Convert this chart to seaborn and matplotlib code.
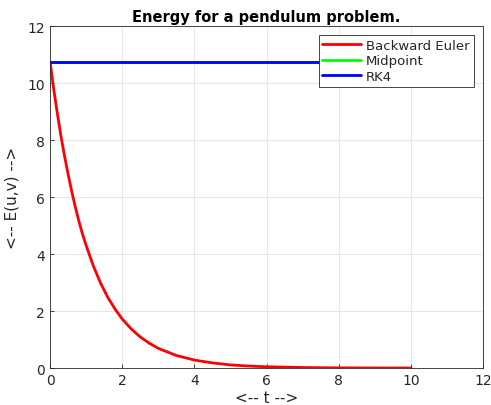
import numpy as np
import pandas as pd
import matplotlib
matplotlib.use("Agg")
import matplotlib.pyplot as plt
import seaborn as sns

# values
t_be = [0, 0.1, 0.2, 0.3, 0.4, 0.5, 0.6, 0.7, 0.8, 0.9, 1.0, 1.2, 1.4, 1.6, 1.8, 2.0,
        2.25, 2.5, 2.75, 3.0, 3.5, 4.0, 4.5, 5.0, 5.5, 6.0, 7.0, 8.0, 9.0, 10.0]
e_be = [10.75, 9.8, 8.95, 8.15, 7.45, 6.8, 6.2, 5.65, 5.15, 4.7, 4.3, 3.58, 2.98, 2.48,
        2.07, 1.72, 1.37, 1.09, 0.87, 0.69, 0.44, 0.28, 0.18, 0.11, 0.07, 0.045,
        0.018, 0.007, 0.003, 0.001]
t_flat = [0, 2, 4, 6, 8, 10]
e_mid = [10.75, 10.75, 10.75, 10.75, 10.75, 10.75]
e_rk4 = [10.75, 10.75, 10.75, 10.75, 10.75, 10.75]

labels = ["Backward Euler", "Midpoint", "RK4"]
colors = ["#ff0000", "#00ff00", "#0000ff"]

df = pd.concat([
    pd.DataFrame({"t": t_be, "E": e_be, "method": labels[0]}),
    pd.DataFrame({"t": t_flat, "E": e_mid, "method": labels[1]}),
    pd.DataFrame({"t": t_flat, "E": e_rk4, "method": labels[2]}),
])

sns.set_style("whitegrid")
plt.rcParams['font.family'] = ['DejaVu Sans']

fig = plt.figure(figsize=(4.91, 4.06), dpi=100)
ax = fig.add_axes([0.102, 0.091, 0.882, 0.842])

sns.lineplot(data=df, x="t", y="E", hue="method", palette=dict(zip(labels, colors)),
             linewidth=2, ax=ax, sort=False, estimator=None)

ax.set_xlim(0, 12)
ax.set_ylim(0, 12)
ax.set_xticks(range(0, 13, 2))
ax.set_yticks(range(0, 13, 2))
ax.grid(True, color="#e6e6e6", linewidth=0.8)
for s in ax.spines.values():
    s.set_color("#262626")
    s.set_linewidth(0.6)
ax.tick_params(direction="in", length=3, colors="#262626", labelsize=10, width=0.6,
               top=False, right=False, bottom=True, left=True)

ax.set_title("Energy for a pendulum problem.", fontsize=10.5, fontweight="bold",
             color="black", pad=4)
ax.set_xlabel("<-- t -->", fontsize=11, color="#262626", labelpad=2)
ax.set_ylabel("<-- E(u,v) -->", fontsize=11, color="#262626", labelpad=6)

leg = ax.legend(loc="upper right", bbox_to_anchor=(0.978, 0.975), fontsize=9.5,
                fancybox=False, framealpha=1, edgecolor="#262626", borderaxespad=0,
                handlelength=2.9, labelspacing=0.2, borderpad=0.3, handletextpad=0.4)
leg.get_frame().set_linewidth(0.6)

fig.savefig("out.png", dpi=100)
